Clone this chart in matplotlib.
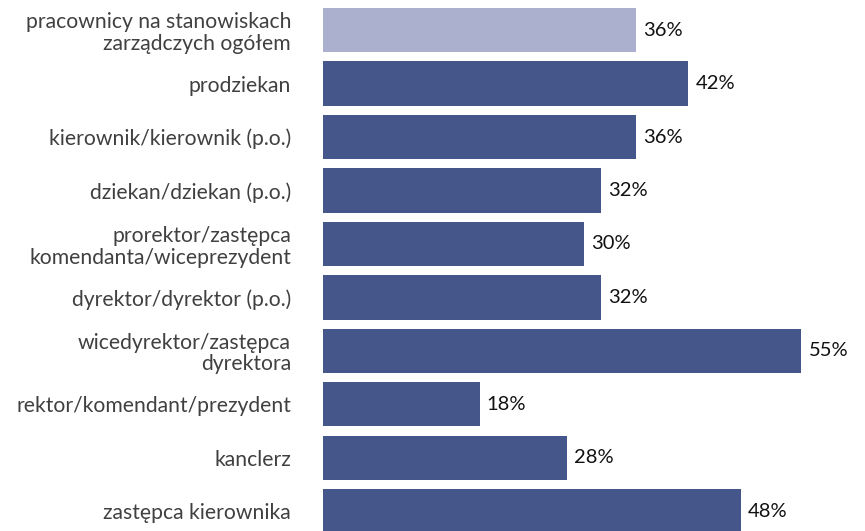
import matplotlib
matplotlib.use("Agg")
import matplotlib.pyplot as plt

categories = [
    "pracownicy na stanowiskach\nzarządczych ogółem",
    "prodziekan",
    "kierownik/kierownik (p.o.)",
    "dziekan/dziekan (p.o.)",
    "prorektor/zastępca\nkomendanta/wiceprezydent",
    "dyrektor/dyrektor (p.o.)",
    "wicedyrektor/zastępca\ndyrektora",
    "rektor/komendant/prezydent",
    "kanclerz",
    "zastępca kierownika",
]
values = [36, 42, 36, 32, 30, 32, 55, 18, 28, 48]
value_labels = ["36%", "42%", "36%", "32%", "30%", "32%", "55%", "18%", "28%", "48%"]

plt.rcParams['font.family'] = ['Lato', 'DejaVu Sans']

W, H = 865, 531
fig = plt.figure(figsize=(W / 100, H / 100), dpi=100)
left = 323 / W
ax = fig.add_axes([left, 0, 1 - left, 1])

colors = ["#AAB0CD"] + ["#44568A"] * (len(values) - 1)
ypos = list(range(len(values)))
ax.barh(ypos, values, height=0.83, color=colors, edgecolor="none")

for y, v, lab in zip(ypos, values, value_labels):
    ax.annotate(lab, (v, y), xytext=(5, 0), textcoords="offset points",
                va="center", ha="left", fontsize=14.5, color="#111111")

ax.set_xlim(0, 62.3)
ax.set_ylim(9.371, -0.565)
ax.set_yticks(ypos)
ax.set_yticklabels(categories, fontsize=15.2, color="#404040", linespacing=1.1)
ax.tick_params(axis="y", length=0, pad=23)
ax.set_xticks([])
for s in ax.spines.values():
    s.set_visible(False)

fig.savefig("out.png", dpi=100, facecolor="white")
